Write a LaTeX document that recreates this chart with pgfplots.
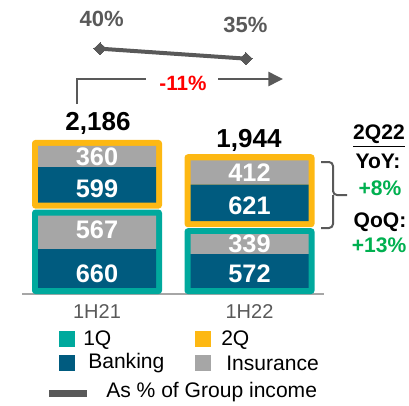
\documentclass[border=0pt]{standalone}
\usepackage{pgfplots}
\pgfplotsset{compat=1.18}
\usepackage{fontspec}
\setmainfont{Liberation Sans}
\usetikzlibrary{arrows.meta}
\definecolor{qteal}{HTML}{00A99D}
\definecolor{qorange}{HTML}{FDB813}
\definecolor{bank}{HTML}{005B7F}
\definecolor{ins}{HTML}{A6A6A6}
\definecolor{dgray}{HTML}{595959}
\definecolor{pgreen}{HTML}{00B050}
\definecolor{pred}{HTML}{FF0000}
\newcommand\fs[1]{\fontsize{#1}{#1}\selectfont}
\tikzset{lab/.style={font=\bfseries\fs{19pt}, text=white, inner sep=0pt}}
\pgfplotsset{base/.style={at={(16.5pt,83.25pt)}, anchor=south west, scale only axis,
  width=226.5pt, height=212.4pt, xmin=-0.4918, xmax=1.4885, clip=false}}
\begin{document}
\begin{tikzpicture}
\path[use as bounding box] (0,0) rectangle (306.75pt,303.75pt);
% quarter boxes
\begin{axis}[base, ymin=0, ymax=4800, ybar stacked, bar width=97.5pt,
  axis y line=none, axis x line*=bottom, x axis line style={draw=ins, line width=1.2pt, -},
  xtick={0,1}, xticklabels={1H21,1H22}, major tick length=0pt,
  xticklabel style={font=\fs{15pt}, text=dgray, anchor=center, yshift=-13.5pt}]
\addplot[fill=qteal, draw=none, rounded corners=2.5pt] coordinates {(0,1431) (1,1115)};
\addplot[fill=none, draw=none] coordinates {(0,17) (1,17)};
\addplot[fill=qorange, draw=none, rounded corners=2.5pt] coordinates {(0,1163) (1,1237)};
\end{axis}
% banking / insurance fills
\begin{axis}[base, ymin=0, ymax=4800, ybar stacked, bar width=88.5pt, hide axis]
\addplot[draw=none, fill=none] coordinates {(0,102) (1,102)};
\addplot[fill=bank, draw=none] coordinates {(0,660) (1,572)};
\addplot[fill=ins, draw=none] coordinates {(0,567) (1,339)};
\addplot[draw=none, fill=none] coordinates {(0,221) (1,221)};
\addplot[fill=bank, draw=none] coordinates {(0,599) (1,621)};
\addplot[fill=ins, draw=none] coordinates {(0,360) (1,412)};
\end{axis}
% share of group income
\begin{axis}[base, ymin=-83, ymax=59, hide axis]
\addplot[dgray, line width=3pt, mark=diamond*, mark size=4.5pt,
  mark options={xscale=1.4, fill=dgray, draw=dgray, line width=0pt}]
  coordinates {(0.02,40) (0.977,35)};
\end{axis}
\begin{scope}[shift={(0pt,303.75pt)}, x=0.75pt, y=-0.75pt]
% segment labels
\node[lab] at (97,273.5) {660};
\node[lab] at (97,230) {567};
\node[lab] at (97,189) {599};
\node[lab] at (97,156.5) {360};
\node[lab] at (249.5,274) {572};
\node[lab] at (249.5,244) {339};
\node[lab] at (249.5,206) {621};
\node[lab] at (249.5,172.5) {412};
\node[font=\bfseries\fs{16.5pt}, text=dgray] at (101.7,18.7) {40\%};
\node[font=\bfseries\fs{16.5pt}, text=dgray] at (245.5,25) {35\%};
\draw[dgray, line width=1.9pt] (77,104) -- (77,79) -- (146,79);
\draw[dgray, line width=1.9pt, -{Triangle[length=11pt,width=10.5pt]}] (218,79) -- (283,79);
\node[font=\bfseries\fs{15.5pt}, text=pred] at (183,83) {-11\%};
\node[font=\bfseries\fs{19.5pt}] at (98,123) {2,186};
\node[font=\bfseries\fs{19.5pt}] at (249,140) {1,944};
\draw[dgray, line width=1.5pt, rounded corners=3pt] (321,162) -- (333,162) -- (333,195) -- (347,195);
\draw[dgray, line width=1.5pt, rounded corners=3pt] (321,228) -- (333,228) -- (333,195);
\node[font=\bfseries\fs{15.8pt}] at (379,136) {\underline{2Q22}};
\node[font=\bfseries\fs{15.8pt}] at (378,161) {YoY:};
\node[font=\bfseries\fs{15.8pt}, text=pgreen] at (380,188) {+8\%};
\node[font=\bfseries\fs{15.8pt}] at (380,222) {QoQ:};
\node[font=\bfseries\fs{15.8pt}, text=pgreen] at (379,245) {+13\%};
% legend
\fill[qteal] (59,331) rectangle (75,347);
\node[anchor=west, inner sep=0pt, font=\fs{15.8pt}] at (83,340) {1Q};
\fill[qorange] (195,331) rectangle (211,347);
\node[anchor=west, inner sep=0pt, font=\fs{15.8pt}] at (221,340) {2Q};
\fill[bank] (59,355) rectangle (75,371);
\node[anchor=west, inner sep=0pt, font=\fs{15.8pt}] at (88,363) {Banking};
\fill[ins] (195,355) rectangle (211,371);
\node[anchor=west, inner sep=0pt, font=\fs{15.8pt}] at (226,363) {Insurance};
\fill[dgray] (49,389.5) rectangle (87,396.5);
\node[anchor=west, inner sep=0pt, font=\fs{15.8pt}] at (106,392) {As \% of Group income};
\end{scope}
\end{tikzpicture}
\end{document}
